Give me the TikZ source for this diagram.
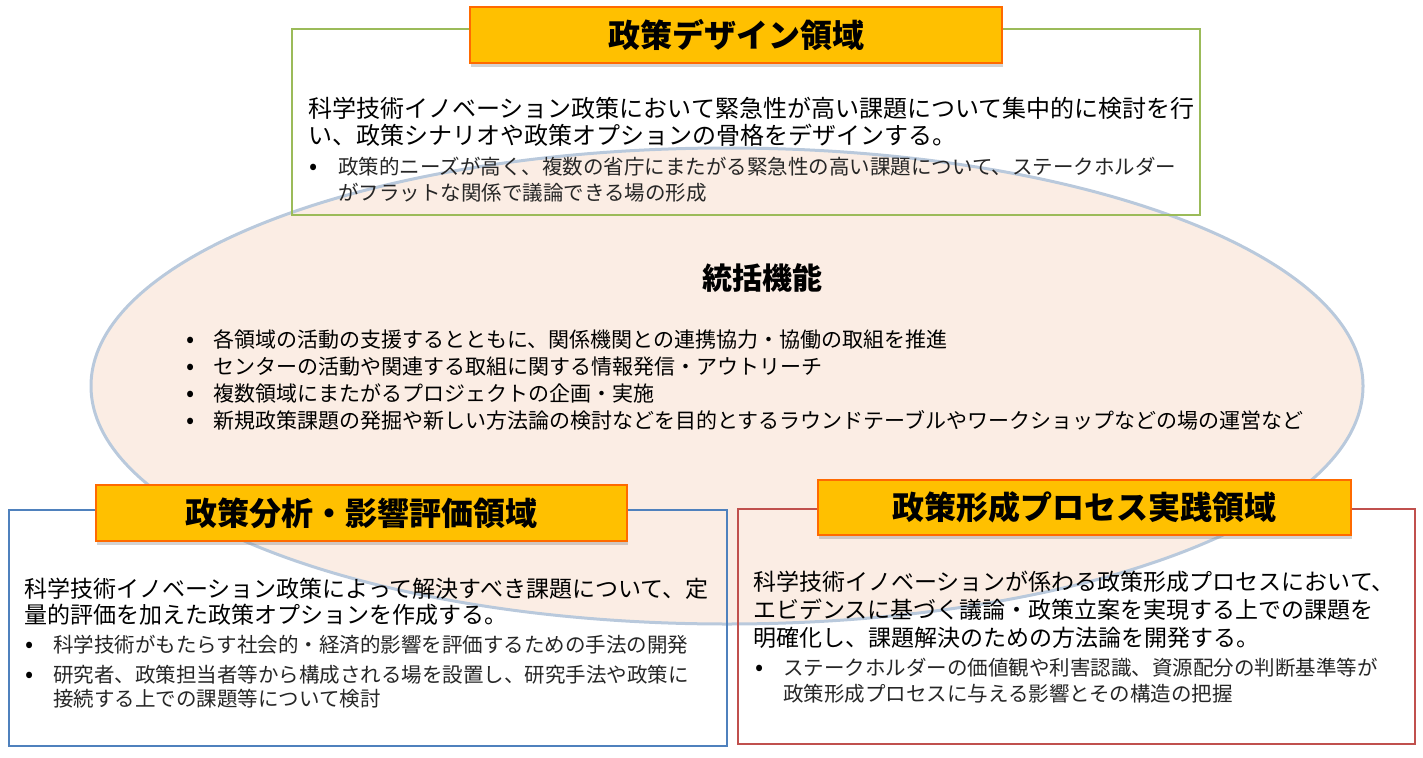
\documentclass[tikz,border=0pt]{standalone}
\usepackage{fontspec}
\usepackage{tikz}
\usepackage{xcolor}
\usetikzlibrary{positioning}
\usetikzlibrary{shapes.geometric}
\usetikzlibrary{shadows}
\setmainfont{Noto Sans CJK JP}
\newcommand{\bulletmark}{\makebox[27pt][l]{\fontsize{24}{26.7}\selectfont•}}
\definecolor{designColor}{HTML}{9bbb59}
\definecolor{analysisColor}{HTML}{4f81bd}
\definecolor{processColor}{HTML}{c0504d}
\definecolor{titleColor}{HTML}{ffc000}
\definecolor{titleLineColor}{HTML}{ff6a00}
\definecolor{hubColor}{HTML}{fae9dd}
\definecolor{hubLineColor}{HTML}{b9c9dc}

\begin{document}
\begin{tikzpicture}[
		x=1pt, y=-1pt,
		area/.style={rectangle, inner sep=0, line width=2pt},
		hub/.style={ellipse, inner sep=0, fill=hubColor, fill opacity=0.8, draw=hubLineColor, line width=3pt},
		title/.style={rectangle, inner sep=0, fill=titleColor, draw=titleLineColor, line width=2pt, font=\fontsize{32}{36}\selectfont\bfseries, drop shadow={opacity=0.35, shadow xshift=1pt, shadow yshift=-4pt}},
		main text/.style={anchor=base west, inner sep=0, align=left},
		bullet text/.style={anchor=base west, inner sep=0, align=left, black!85, font=\fontsize{20.5}{26}\selectfont},
		bullet/.style={anchor=base, inner sep=0, black, font=\fontsize{24}{26}\selectfont},
	]
	\useasboundingbox (0, 0) rectangle (1423, 757);
	% Coordinating function
	\node[hub, minimum width=1272pt, minimum height=476pt] (hub) at (727, 386) {};
	% Areas
	\node[area, draw=designColor, minimum width=908pt, minimum height=186pt] (design area) at (746, 122) {};
	\node[area, draw=analysisColor, minimum width=718pt, minimum height=236pt] (analysis area) at (368, 628) {};
	\node[area, draw=processColor, minimum width=677pt, minimum height=235pt] (process area) at (1076.5, 626.5) {};
	% Titles
	\node[title, minimum width=532pt, minimum height=56pt] (design title) at (736, 35) {政策デザイン領域};
	\node[title, minimum width=531pt, minimum height=56pt] (analysis title) at (361.5, 513) {政策分析・影響評価領域};
	\node[title, minimum width=533pt, minimum height=55pt] (process title) at (1084.5, 507.5) {政策形成プロセス実践領域};
	% Design area texts (base = last line)
	\node[main text, font=\fontsize{24}{27}\selectfont] (design text) at (308, 144) {科学技術イノベーション政策において緊急性が高い課題について集中的に検討を行\\い、政策シナリオや政策オプションの骨格をデザインする。};
	\node[bullet] (design dot) at (314, 174) {•};
	\node[bullet text] (design item) at (338, 200) {政策的ニーズが高く、複数の省庁にまたがる緊急性の高い課題について、ステークホルダー\\がフラットな関係で議論できる場の形成};
	% Hub texts
	\node[anchor=base, inner sep=0, font=\fontsize{30}{34}\selectfont\bfseries] (hub title) at (762, 289) {統括機能};
	\node[main text, font=\fontsize{21}{26.7}\selectfont] (hub items) at (186, 428) {\bulletmark 各領域の活動の支援するとともに、関係機関との連携協力・協働の取組を推進\\\bulletmark センターの活動や関連する取組に関する情報発信・アウトリーチ\\\bulletmark 複数領域にまたがるプロジェクトの企画・実施\\\bulletmark 新規政策課題の発掘や新しい方法論の検討などを目的とするラウンドテーブルやワークショップなどの場の運営など};
	% Analysis area texts
	\node[main text, font=\fontsize{23}{26}\selectfont] (analysis text) at (24, 623) {科学技術イノベーション政策によって解決すべき課題について、定\\量的評価を加えた政策オプションを作成する。};
	\node[bullet] (analysis dot 1) at (30, 652) {•};
	\node[bullet text] (analysis item 1) at (53, 652) {科学技術がもたらす社会的・経済的影響を評価するための手法の開発};
	\node[bullet] (analysis dot 2) at (30, 682) {•};
	\node[bullet text, font=\fontsize{20.5}{24}\selectfont] (analysis item 2) at (53, 706) {研究者、政策担当者等から構成される場を設置し、研究手法や政策に\\接続する上での課題等について検討};
	% Process area texts
	\node[main text, font=\fontsize{23}{28}\selectfont] (process text) at (753, 646) {科学技術イノベーションが係わる政策形成プロセスにおいて、\\エビデンスに基づく議論・政策立案を実現する上での課題を\\明確化し、課題解決のための方法論を開発する。};
	\node[bullet] (process dot) at (760, 675) {•};
	\node[bullet text] (process item) at (783, 701) {ステークホルダーの価値観や利害認識、資源配分の判断基準等が\\政策形成プロセスに与える影響とその構造の把握};
\end{tikzpicture}
\end{document}
